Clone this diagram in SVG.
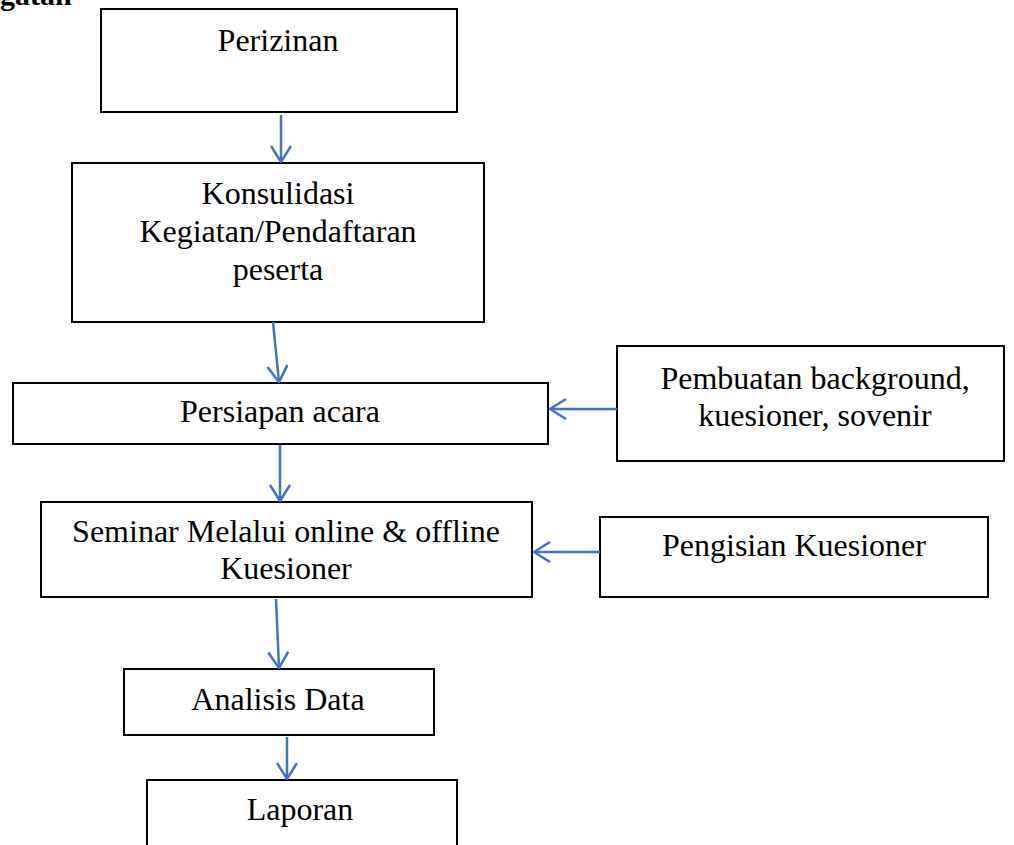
<svg xmlns="http://www.w3.org/2000/svg" width="1014" height="845" viewBox="0 0 1014 845">
<style>
.box{fill:#fff;stroke:#000;stroke-width:2}
.t{font-family:"Liberation Serif","Times New Roman",serif;font-size:32px;fill:#000;text-anchor:middle}
.h{font-family:"Liberation Serif","Times New Roman",serif;font-size:30px;font-weight:bold;fill:#000}
.c{stroke:#4472C4;stroke-width:2.5;fill:none}
</style>
<defs>
<marker id="arr" markerUnits="userSpaceOnUse" viewBox="0 0 18 22" refX="17" refY="11" markerWidth="18" markerHeight="22" orient="auto">
<path d="M1,1 L17,11 L1,21" stroke="#4472C4" stroke-width="2.5" fill="none"/>
</marker>
</defs>
<rect width="1014" height="845" fill="#fff"/>
<text class="h" x="0" y="5">gatan</text>
<g id="n1"><rect class="box" x="101" y="9" width="356" height="103"/><text class="t" x="278" y="51">Perizinan</text></g>
<g id="n2"><rect class="box" x="72" y="163" width="412" height="159"/><text class="t" x="278" y="204">Konsulidasi</text><text class="t" x="278" y="242">Kegiatan/Pendaftaran</text><text class="t" x="278" y="280">peserta</text></g>
<g id="n3"><rect class="box" x="13" y="383" width="535" height="61"/><text class="t" x="280" y="422">Persiapan acara</text></g>
<g id="n4"><rect class="box" x="617" y="346" width="387" height="115"/><text class="t" x="815" y="389">Pembuatan background,</text><text class="t" x="815" y="426">kuesioner, sovenir</text></g>
<g id="n5"><rect class="box" x="41" y="502" width="491" height="95"/><text class="t" x="286" y="542">Seminar Melalui online &amp; offline</text><text class="t" x="286" y="579">Kuesioner</text></g>
<g id="n6"><rect class="box" x="600" y="517" width="388" height="80"/><text class="t" x="794" y="556">Pengisian Kuesioner</text></g>
<g id="n7"><rect class="box" x="124" y="669" width="310" height="66"/><text class="t" x="278" y="710">Analisis Data</text></g>
<g id="n8"><rect class="box" x="147" y="780" width="310" height="80"/><text class="t" x="300" y="820">Laporan</text></g>
<g id="connectors">
<line class="c" x1="281" y1="115" x2="281" y2="162" marker-end="url(#arr)"/>
<line class="c" x1="273" y1="322" x2="279" y2="382" marker-end="url(#arr)"/>
<line class="c" x1="617" y1="409" x2="550" y2="409" marker-end="url(#arr)"/>
<line class="c" x1="280" y1="445" x2="280" y2="501" marker-end="url(#arr)"/>
<line class="c" x1="600" y1="552" x2="534" y2="552" marker-end="url(#arr)"/>
<line class="c" x1="276" y1="599" x2="279" y2="668" marker-end="url(#arr)"/>
<line class="c" x1="287" y1="737" x2="287" y2="779" marker-end="url(#arr)"/>
</g>
</svg>
